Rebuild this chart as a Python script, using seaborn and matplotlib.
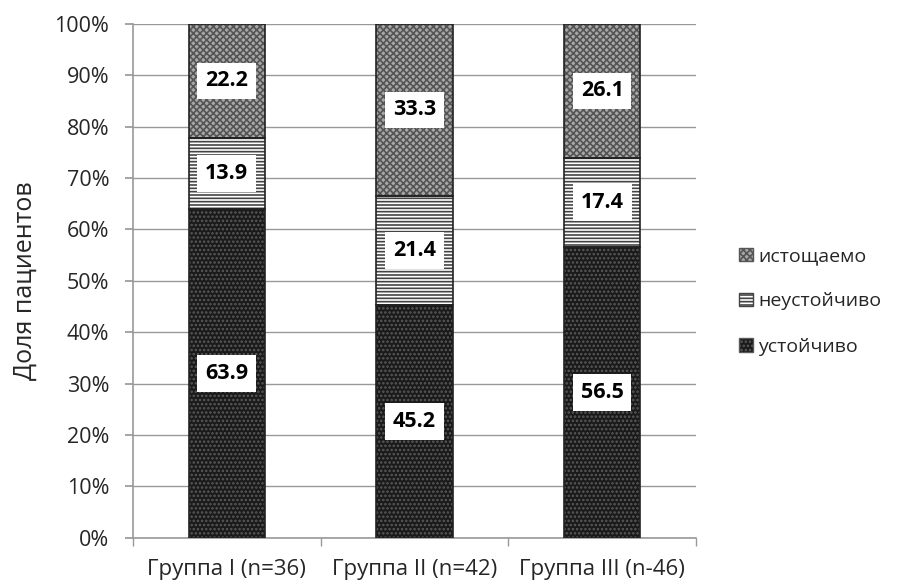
import numpy as np
import pandas as pd
import matplotlib
matplotlib.use('Agg')
import matplotlib.pyplot as plt
import seaborn as sns
from matplotlib.patches import Patch

groups = ['Группа I (n=36)', 'Группа II (n=42)', 'Группа III (n-46)']
stable = [63.9, 45.2, 56.5]
unstable = [13.9, 21.4, 17.4]
exhausted = [22.2, 33.3, 26.1]
series_names = ['устойчиво', 'неустойчиво', 'истощаемо']

sns.set_theme(style='white')
plt.rcParams['font.family'] = ['Open Sans', 'DejaVu Sans']
plt.rcParams['hatch.linewidth'] = 1.2

fig = plt.figure(figsize=(9.03, 5.82), dpi=100)
ax = fig.add_axes([0.147, 0.076, 0.624, 0.883])

# facecolor, hatch colour, hatch
styles = [
    ('#1a1a1a', '#5a5a5a', '....'),
    ('white', '#444444', '-----'),
    ('#a8a8a8', '#555555', 'xxxxx'),
]

bottoms = np.zeros(len(groups))
for vals, (fc, hc, hatch) in zip([stable, unstable, exhausted], styles):
    df = pd.DataFrame({'group': groups, 'val': vals})
    before = len(ax.patches)
    sns.barplot(data=df, x='group', y='val', bottom=bottoms, width=0.405,
                color=fc, ax=ax, saturation=1, zorder=3)
    for p in ax.patches[before:]:
        p.set_facecolor(fc)
        p.set_hatch(hatch)
        p.set_edgecolor(hc)
        p.set_linewidth(0)
    # outline + value labels
    for i, v in enumerate(vals):
        ax.bar(i, v, bottom=bottoms[i], width=0.405, fill=False,
               edgecolor='#222222', linewidth=1.2, zorder=4)
        ax.text(i, bottoms[i] + v / 2, f'{v:.1f}', ha='center', va='center',
                fontsize=15.5, fontweight='bold', color='black', zorder=5,
                bbox=dict(boxstyle='square,pad=0.36', fc='white', ec='none'))
    bottoms = bottoms + np.array(vals)

ax.set_ylim(0, 100)
ax.set_xlim(-0.5, 2.5)
ax.set_yticks(np.arange(0, 101, 10))
ax.set_yticklabels([f'{t}%' for t in range(0, 101, 10)], fontsize=15.5)
ax.tick_params(axis='x', labelsize=16, pad=15)
ax.tick_params(axis='y', length=6, color='#999999', left=True, pad=11)
ax.set_xticks([-0.5, 0.5, 1.5, 2.5], minor=True)
ax.tick_params(axis='x', which='major', length=0)
ax.tick_params(axis='x', which='minor', length=6, color='#999999', bottom=True)
ax.set_xlabel('')
ax.set_ylabel('Доля пациентов', fontsize=18, labelpad=12)
ax.yaxis.grid(True, color='#999999', linewidth=1, zorder=0)
ax.set_axisbelow(True)
for s in ['top', 'right']:
    ax.spines[s].set_visible(False)
for s in ['left', 'bottom']:
    ax.spines[s].set_color('#999999')
    ax.spines[s].set_linewidth(1.2)

handles = [Patch(facecolor=styles[i][0], edgecolor=styles[i][1], hatch=styles[i][2])
           for i in range(3)]
leg = ax.legend(handles[::-1], series_names[::-1], loc='center left',
                bbox_to_anchor=(1.045, 0.46), frameon=False, fontsize=14,
                handlelength=0.7, handleheight=0.7, handletextpad=0.3,
                labelspacing=1.4)
for h in leg.legend_handles:
    h.set_linewidth(1)

fig.savefig('out.png', dpi=100)
